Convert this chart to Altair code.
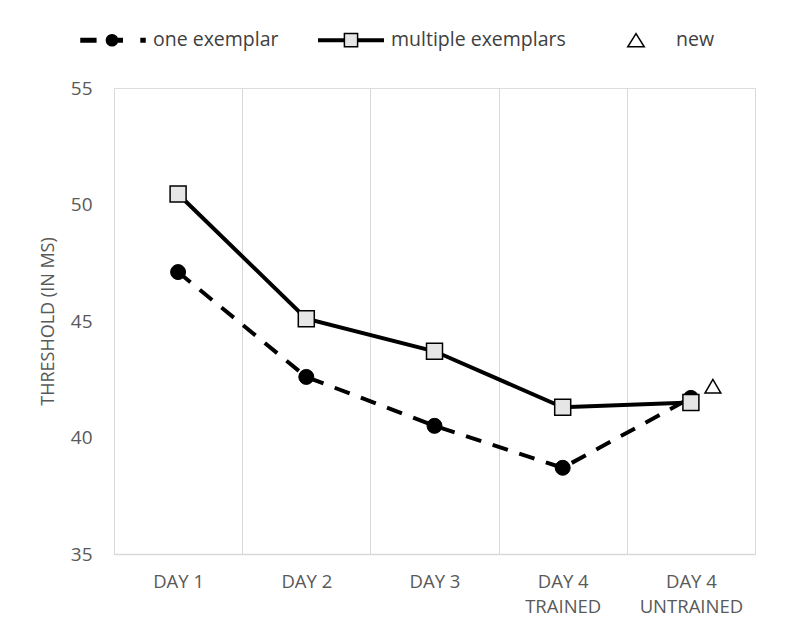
import altair as alt
import pandas as pd

categories = ["DAY 1", "DAY 2", "DAY 3", "DAY 4 TRAINED", "DAY 4 UNTRAINED"]
one_exemplar = [47.1, 42.6, 40.5, 38.7, 41.7]
multiple_exemplars = [50.45, 45.1, 43.7, 41.3, 41.5]
new_categories = ["DAY 4 UNTRAINED"]
new_values = [42.2]
series_names = ["one exemplar", "multiple exemplars", "new"]
y_ticks = [35, 40, 45, 50, 55]

rows = []
for c, v in zip(categories, one_exemplar):
    rows.append({"category": c, "value": v, "series": series_names[0]})
for c, v in zip(categories, multiple_exemplars):
    rows.append({"category": c, "value": v, "series": series_names[1]})
for c, v in zip(new_categories, new_values):
    rows.append({"category": c, "value": v, "series": series_names[2]})
df = pd.DataFrame(rows)

FONT = "Open Sans"
GRAY = "#595959"

# legend glyphs: line + marker drawn as one custom symbol path each
PATH1 = ("M-0.97,-0.055H-0.52V0.055H-0.97Z "
         "M-0.2,0A0.17,0.17 0 1,0 0.14,0A0.17,0.17 0 1,0 -0.2,0Z "
         "M0.1,-0.05H0.28V0.05H0.1Z "
         "M0.85,-0.05H0.97V0.05H0.85Z")
PATH2 = ("M-1,-0.04H-0.2M-1,0H-0.2M-1,0.04H-0.2"
         "M0.2,-0.04H1M0.2,0H1M0.2,0.04H1"
         "M-0.2,-0.2H0.2V0.2H-0.2Z")
PATH3 = "M0,-0.2L0.25,0.2L-0.25,0.2Z"

legend = alt.Legend(
    title=None,
    orient="none",
    direction="horizontal",
    legendX=-35,
    legendY=-82,
    padding=0,
    symbolSize=4356,
    symbolStrokeColor="black",
    symbolStrokeWidth=1.5,
    symbolOpacity=1,
    labelOffset=6,
    columnPadding=36,
    labelLimit=400,
    labelFont=FONT,
    labelFontSize=19.5,
    labelColor="#404040",
)

x_enc = alt.X(
    "category:N",
    scale=alt.Scale(domain=categories, type="band", paddingInner=0, paddingOuter=0),
    axis=alt.Axis(
        title=None,
        labelAngle=0,
        tickBand="extent",
        grid=True,
        gridColor="#d9d9d9",
        gridWidth=1,
        domainColor="#d9d9d9",
        domainWidth=1.5,
        ticks=False,
        tickSize=0,
        labelPadding=18,
        labelFont=FONT,
        labelFontSize=18.5,
        labelColor=GRAY,
        labelLineHeight=25,
        labelExpr="length(datum.label) > 5 ? [substring(datum.label, 0, 5), substring(datum.label, 6)] : datum.label",
    ),
)
y_enc = alt.Y(
    "value:Q",
    scale=alt.Scale(domain=[35, 55], nice=False, zero=False),
    axis=alt.Axis(
        values=y_ticks,
        grid=False,
        domain=False,
        ticks=False,
        tickSize=0,
        labelPadding=22,
        labelFlush=False,
        labelFont=FONT,
        labelFontSize=19,
        labelColor=GRAY,
        title="THRESHOLD (IN MS)",
        titleFont=FONT,
        titleFontSize=18,
        titleFontWeight="normal",
        titleColor=GRAY,
        titleAngle=270,
        titleAlign="center",
        titleBaseline="middle",
        titleX=-66,
        titleY=233,
    ),
)

base = alt.Chart(df)

dashed = base.transform_filter(alt.datum.series == series_names[0]).mark_line(
    color="black", strokeWidth=4, strokeDash=[16, 12]
).encode(x=x_enc, y=y_enc)

solid = base.transform_filter(alt.datum.series == series_names[1]).mark_line(
    color="black", strokeWidth=4
).encode(x=x_enc, y=y_enc)

circles = base.transform_filter(alt.datum.series == series_names[0]).mark_point(
    shape="circle", filled=True, fill="black", stroke="black", strokeWidth=1, size=225, opacity=1
).encode(x=x_enc, y=y_enc)

squares = base.transform_filter(alt.datum.series == series_names[1]).mark_point(
    shape="square", filled=True, fill="#e6e6e6", stroke="black", strokeWidth=1.5, size=256, opacity=1
).encode(x=x_enc, y=y_enc)

tri = base.transform_filter(alt.datum.series == series_names[2]).mark_point(
    shape="triangle-up", filled=True, fill="white", stroke="black", strokeWidth=1.5, size=250,
    opacity=1, xOffset=22
).encode(x=x_enc, y=y_enc)

# legend-only layer (no marks drawn: every row filtered out, domain is explicit)
legend_layer = base.transform_filter("false").mark_point(
    filled=True, strokeWidth=1.5, opacity=1
).encode(
    x=x_enc,
    y=y_enc,
    shape=alt.Shape(
        "series:N",
        scale=alt.Scale(domain=series_names, range=[PATH1, PATH2, PATH3]),
        legend=legend,
    ),
    fill=alt.Fill(
        "series:N",
        scale=alt.Scale(domain=series_names, range=["black", "#e6e6e6", "white"]),
        legend=legend,
    ),
    stroke=alt.Stroke(
        "series:N",
        scale=alt.Scale(domain=series_names, range=["black", "black", "black"]),
        legend=legend,
    ),
)

chart = alt.layer(dashed, solid, circles, squares, tri, legend_layer).properties(
    width=641,
    height=466,
    autosize=alt.AutoSizeParams(type="none"),
    padding={"left": 106, "top": 80, "right": 20, "bottom": 70},
).configure_view(stroke=None).configure(background="white")

chart.save("out.html", embed_options={"renderer": "svg", "actions": False})
